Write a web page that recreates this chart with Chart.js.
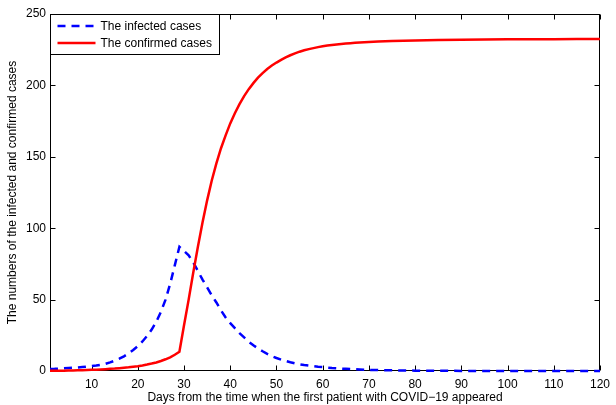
<!DOCTYPE html>
<html>
<head>
<meta charset="utf-8">
<title>Infected and confirmed cases</title>
<script src="https://cdn.jsdelivr.net/npm/chart.js@4.4.0/dist/chart.umd.min.js"></script>
<style>
  html, body { margin: 0; padding: 0; background: #fff; }
  #wrap { width: 616px; height: 405px; }
</style>
</head>
<body>
<div id="wrap"><canvas id="chart" width="616" height="405"></canvas></div>
<script>
const FONT = "'Liberation Sans', Arial, Helvetica, sans-serif";

// days since the first patient (daily up to day 70, then sparser)
const days = [
  1, 2, 3, 4, 5, 6, 7, 8, 9, 10,
  11, 12, 13, 14, 15, 16, 17, 18, 19, 20,
  21, 22, 23, 24, 25, 26, 27, 28, 29, 30,
  31, 32, 33, 34, 35, 36, 37, 38, 39, 40,
  41, 42, 43, 44, 45, 46, 47, 48, 49, 50,
  51, 52, 53, 54, 55, 56, 57, 58, 59, 60,
  61, 62, 63, 64, 65, 66, 67, 68, 69, 70,
  72, 75, 80, 85, 90, 95, 100, 105, 110, 115, 120
];

const infected = [
  1.4, 1.5, 1.7, 1.9, 2.1, 2.3, 2.5, 2.8, 3.1, 3.4,
  3.8, 4.3, 5.0, 6.0, 7.2, 8.6, 10.3, 12.3, 14.7, 17.4,
  20.7, 24.5, 29, 34.5, 41.5, 50, 61, 74, 87, 84,
  81, 76, 70, 64, 58.5, 53, 48, 42.5, 37.5, 33.5,
  30, 26.5, 23.5, 20.5, 18, 15.8, 13.8, 12, 10.4, 9.1,
  8, 7, 6.1, 5.3, 4.7, 4.2, 3.8, 3.4, 3.0, 2.7,
  2.4, 2.1, 1.9, 1.7, 1.5, 1.35, 1.2, 1.05, 0.95, 0.8,
  0.65, 0.45, 0.25, 0.14, 0.08, 0.05, 0.03, 0.02, 0.01, 0.01, 0
];

const confirmed = [
  0.1, 0.15, 0.2, 0.25, 0.3, 0.4, 0.5, 0.6, 0.7, 0.8,
  0.95, 1.1, 1.3, 1.5, 1.7, 2.0, 2.3, 2.6, 3.0, 3.4,
  3.9, 4.5, 5.2, 6.0, 7.0, 8.2, 9.6, 11.4, 13.5, 32,
  50, 69, 87, 104, 119.5, 133.4, 145.4, 156, 165, 173.4,
  180.5, 186.9, 192.5, 197.4, 201.6, 205.4, 208.6, 211.5, 213.9, 216,
  217.9, 219.6, 221.1, 222.4, 223.6, 224.6, 225.4, 226.1, 226.8, 227.4,
  227.9, 228.3, 228.7, 229.0, 229.3, 229.6, 229.8, 230.0, 230.2, 230.4,
  230.7, 231.1, 231.5, 231.8, 232.0, 232.2, 232.3, 232.4, 232.4, 232.5, 232.5
];

const xTicks = [10, 20, 30, 40, 50, 60, 70, 80, 90, 100, 110, 120];
const yTicks = [0, 50, 100, 150, 200, 250];

const toPoints = vals => days.map((d, i) => ({ x: d, y: vals[i] }));

// box around the axes with inward tick marks on all four sides
const axesBox = {
  id: "axesBox",
  beforeDatasetsDraw(chart){
    const { ctx, chartArea: a, scales } = chart;
    const L = Math.floor(a.left) + 0.5, R = Math.ceil(a.right) - 0.5;
    const T = Math.floor(a.top) + 0.5, B = Math.ceil(a.bottom) - 0.5;
    const len = 5;
    ctx.save();
    ctx.strokeStyle = "#000";
    ctx.lineWidth = 1;
    ctx.strokeRect(L, T, R - L, B - T);
    ctx.beginPath();
    xTicks.forEach(v => {
      const px = Math.round(scales.x.getPixelForValue(v)) + 0.5;
      ctx.moveTo(px, B); ctx.lineTo(px, B - len);
      ctx.moveTo(px, T); ctx.lineTo(px, T + len);
    });
    yTicks.forEach(v => {
      const py = Math.round(scales.y.getPixelForValue(v)) + 0.5;
      ctx.moveTo(L, py); ctx.lineTo(L + len, py);
      ctx.moveTo(R, py); ctx.lineTo(R - len, py);
    });
    ctx.stroke();
    ctx.restore();
  }
};

// legend box in the upper left corner of the plot
const boxLegend = {
  id: "boxLegend",
  afterDraw(chart){
    const { ctx, chartArea: a } = chart;
    const x0 = Math.floor(a.left) + 0.5, y0 = Math.floor(a.top) + 0.5;
    const w = 169, h = 40;
    ctx.save();
    ctx.fillStyle = "#fff";
    ctx.fillRect(x0, y0, w, h);
    ctx.strokeStyle = "#000";
    ctx.lineWidth = 1;
    ctx.strokeRect(x0, y0, w, h);
    const rows = [chart.data.datasets[0], chart.data.datasets[1]];
    rows.forEach((ds, i) => {
      const cy = y0 + 11.5 + i * 17;
      ctx.beginPath();
      ctx.strokeStyle = ds.borderColor;
      ctx.lineWidth = ds.borderWidth;
      ctx.setLineDash(ds.borderDash || []);
      ctx.moveTo(x0 + 7, cy);
      ctx.lineTo(x0 + 45, cy);
      ctx.stroke();
      ctx.setLineDash([]);
      ctx.fillStyle = "#000";
      ctx.font = "12px " + FONT;
      ctx.textBaseline = "middle";
      ctx.fillText(ds.label, x0 + 50, cy + 0.5);
    });
    ctx.restore();
  }
};

new Chart(document.getElementById("chart"), {
  type: "line",
  data: {
    datasets: [
      {
        label: "The infected cases",
        data: toPoints(infected),
        borderColor: "#0000ff",
        borderWidth: 2.5,
        borderDash: [8, 6],
        pointRadius: 0,
        fill: false,
        tension: 0,
        clip: false,
        order: 1
      },
      {
        label: "The confirmed cases",
        data: toPoints(confirmed),
        borderColor: "#ff0000",
        borderWidth: 2.5,
        pointRadius: 0,
        fill: false,
        tension: 0,
        clip: false,
        order: 0
      }
    ]
  },
  options: {
    responsive: false,
    animation: false,
    devicePixelRatio: 1,
    layout: { padding: { left: 0, right: 9, top: 14, bottom: 0 } },
    plugins: { legend: { display: false }, tooltip: { enabled: false } },
    scales: {
      x: {
        type: "linear",
        min: 1,
        max: 120,
        afterBuildTicks: s => { s.ticks = xTicks.map(v => ({ value: v })); },
        afterFit: s => { s.height = 34; },
        grid: { display: false, drawTicks: false },
        border: { display: false },
        ticks: { color: "#000", font: { family: FONT, size: 12 }, padding: 6, maxRotation: 0, autoSkip: false },
        title: {
          display: true,
          text: "Days from the time when the first patient with COVID\u221219 appeared",
          color: "#000",
          font: { family: FONT, size: 12 },
          padding: { top: 0, bottom: 0 }
        }
      },
      y: {
        type: "linear",
        min: 0,
        max: 250,
        afterBuildTicks: s => { s.ticks = yTicks.map(v => ({ value: v })); },
        afterFit: s => { s.width = 50; },
        grid: { display: false, drawTicks: false },
        border: { display: false },
        ticks: { color: "#000", font: { family: FONT, size: 12 }, padding: 4 },
        title: {
          display: true,
          text: "The numbers of the infected and confirmed cases",
          color: "#000",
          font: { family: FONT, size: 12 },
          padding: { top: 5.5, bottom: 0 }
        }
      }
    }
  },
  plugins: [axesBox, boxLegend]
});
</script>
</body>
</html>
